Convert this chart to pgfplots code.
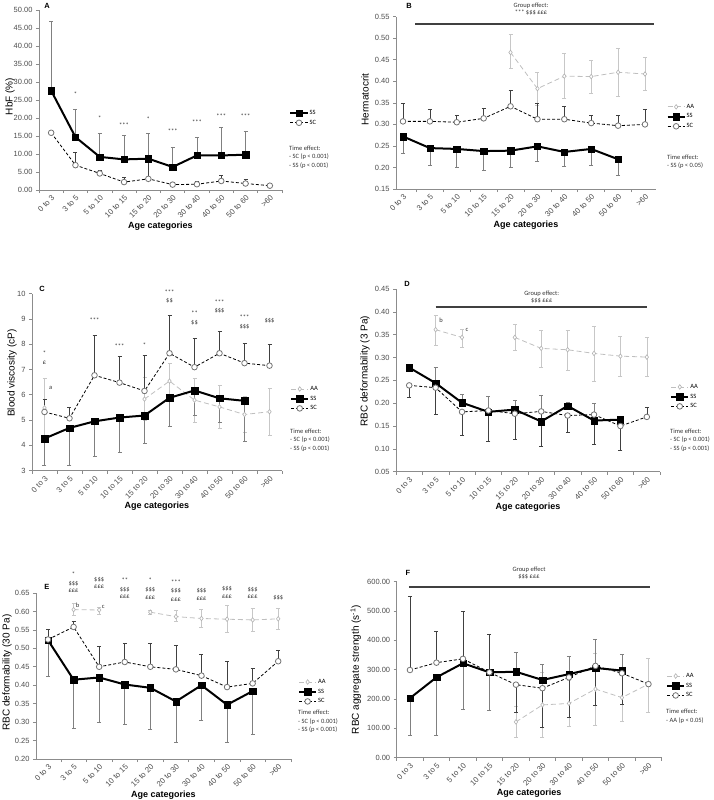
\documentclass[border=0pt]{standalone}
\usepackage{fontspec}
\setmainfont{Liberation Sans}
\newfontfamily\calfont{Carlito}
\usepackage{pgfplots}
\pgfplotsset{compat=1.18}

\tikzset{
  anno/.style={font=\calfont\fontsize{6.5}{7}\selectfont, inner sep=0pt, text=black!80},
  te/.style={anchor=north west, align=left, inner sep=0pt, text=black!80,
    font=\calfont\fontsize{6.5}{8.3}\selectfont},
}
\pgfplotsset{
  panel/.style={
    scale only axis, clip=false,
    axis lines=left, axis line style={-, draw=black!45, line width=0.8pt},
    xtick={0,...,9},
    xticklabels={0 to 3,3 to 5,5 to 10,10 to 15,15 to 20,20 to 30,30 to 40,40 to 50,50 to 60,>60},
    minor xtick={-0.5,0.5,...,9.5},
    major x tick style={draw=none},
    minor x tick style={draw=black!45, line width=0.6pt},
    ytick style={draw=black!45, line width=0.6pt},
    tick align=outside, major tick length=3pt, minor tick length=3pt,
    xticklabel style={rotate=45, anchor=north east, inner sep=1pt, font=\fontsize{7.8}{8}\selectfont, text=black!70},
    yticklabel style={font=\fontsize{7.5}{8}\selectfont, text=black!70,
      /pgf/number format/fixed, /pgf/number format/fixed zerofill, /pgf/number format/precision=2},
    /pgf/number format/assume math mode=true,
    xlabel={Age categories},
    label style={font=\bfseries\fontsize{9}{10}\selectfont},
    xlabel style={yshift=2pt},
    unbounded coords=jump,
    legend style={draw=none, fill=none, font=\calfont\fontsize{6.5}{7}\selectfont, anchor=north west,
      row sep=2pt, inner sep=0pt, nodes={inner sep=1pt}},
    legend cell align=left,
    error bars/y explicit, error bars/y dir=both,
  },
  ylab/.style 2 args={every axis y label/.style={at={(axis description cs:0,#2)}, rotate=90,
    anchor=center, yshift=#1}},
  ss/.style={black, line width=2pt, mark=square*, mark size=3.2pt, mark options={solid, line width=0.3pt},
    error bars/error bar style={black!50, line width=0.6pt, solid},
    error bars/error mark options={black!50, line width=0.6pt, mark size=2pt, rotate=90, solid}},
  sc/.style={black, line width=0.8pt, dash pattern=on 3pt off 2pt, mark=*, mark size=2.8pt,
    mark options={solid, fill=white, draw=black!55, line width=0.8pt},
    error bars/error bar style={black!75, line width=0.6pt, solid},
    error bars/error mark options={black!75, line width=0.6pt, mark size=2pt, rotate=90, solid}},
  aa/.style={black!25, line width=0.8pt, dash pattern=on 5pt off 3pt, mark=diamond*, mark size=2.3pt,
    mark options={solid, fill=white, draw=black!30, line width=0.6pt},
    error bars/error bar style={black!22, line width=0.6pt, solid},
    error bars/error mark options={black!22, line width=0.6pt, mark size=2pt, rotate=90, solid}},
}

\begin{document}
\begin{tikzpicture}
\useasboundingbox (0pt,0pt) rectangle (714pt,-800pt);

% ---------------- A ----------------
\begin{axis}[panel, at={(39pt,-190pt)}, anchor=south west, width=243pt, height=180pt,
  xmin=-0.5, xmax=9.5, ymin=0, ymax=50, ytick={0,5,...,50}, ylabel={HbF (\%)}, ylab={29pt}{0.52},
  legend style={at={(1.03,0.45)}}]
\addplot[ss] table[x=x,y=y,y error plus=p,y error minus=m] {
x y p m
0 27.6 19.4 0
1 14.7 7.8 0
2 9.2 6.5 0
3 8.5 6.7 0
4 8.7 7.0 0
5 6.4 5.6 0
6 9.6 5.1 0
7 9.6 7.7 0
8 9.8 6.4 0
};
\addlegendentry{SS}
\addplot[sc] table[x=x,y=y,y error plus=p,y error minus=m] {
x y p m
0 15.9 0 0
1 6.9 3.5 0
2 4.6 1.0 0
3 2.2 1.3 0
4 3.1 5.0 0
5 1.5 0.6 0
6 1.6 0.9 0
7 2.5 1.6 0
8 1.8 1.1 0
9 1.2 0 0
};
\addlegendentry{SC}
\node[anno] at (axis cs:1,26.7) {*};
\node[anno] at (axis cs:2,19.9) {*};
\node[anno] at (axis cs:3,18.0) {***};
\node[anno] at (axis cs:4,19.7) {*};
\node[anno] at (axis cs:5,16.4) {***};
\node[anno] at (axis cs:6,18.7) {***};
\node[anno] at (axis cs:7,20.5) {***};
\node[anno] at (axis cs:8,20.5) {***};
\end{axis}

% ---------------- B ----------------
\begin{axis}[panel, at={(396pt,-189pt)}, anchor=south west, width=260pt, height=172.3pt,
  xmin=-0.26, xmax=9.41, ymin=0.15, ymax=0.55,
  ytick={0.15,0.20,0.25,0.30,0.35,0.40,0.45,0.50,0.55}, ylabel={Hermatocrit}, ylab={31pt}{0.52},
  legend style={at={(1.04,0.50)}}]
\addplot[aa] table[x=x,y=y,y error plus=p,y error minus=m] {
x y p m
4 0.467 0.041 0.037
5 0.383 0.039 0.039
6 0.412 0.054 0.052
7 0.411 0.038 0.038
8 0.421 0.056 0.056
9 0.417 0.039 0.038
};
\addlegendentry{AA}
\addplot[ss] table[x=x,y=y,y error plus=p,y error minus=m] {
x y p m
0 0.272 0 0.039
1 0.245 0 0.041
2 0.243 0 0.043
3 0.238 0 0.044
4 0.239 0 0.039
5 0.249 0 0.034
6 0.236 0 0.034
7 0.243 0 0.037
8 0.219 0 0.038
};
\addlegendentry{SS}
\addplot[sc] table[x=x,y=y,y error plus=p,y error minus=m] {
x y p m
0 0.307 0.041 0
1 0.307 0.028 0
2 0.305 0.017 0
3 0.314 0.024 0
4 0.342 0.036 0
5 0.312 0.036 0
6 0.312 0.029 0
7 0.303 0.017 0
8 0.297 0.025 0
9 0.300 0.034 0
};
\addlegendentry{SC}
\draw[line width=1.6pt, black!75] (axis cs:0.45,0.533) -- (axis cs:9.33,0.533);
\end{axis}

% ---------------- C ----------------
\begin{axis}[panel, at={(32pt,-470.7pt)}, anchor=south west, width=250pt, height=177.2pt,
  xmin=-0.5, xmax=9.5, ymin=3, ymax=10, ytick={3,...,10}, ylabel={Blood viscosity (cP)}, ylab={20pt}{0.55},
  yticklabel style={/pgf/number format/precision=0},
  legend style={at={(1.032,0.484)}}]
\addplot[aa] table[x=x,y=y,y error plus=p,y error minus=m] {
x y p m
0 5.48 1.16 1.10
1 nan 0 0
2 nan 0 0
3 nan 0 0
4 5.83 0.85 0.85
5 6.54 0.70 0.70
6 5.79 0.86 0.87
7 5.52 0.85 0.84
8 5.22 0.70 0.70
9 5.33 0.92 0.93
};
\addlegendentry{AA}
\addplot[ss] table[x=x,y=y,y error plus=p,y error minus=m] {
x y p m
0 4.27 0 1.07
1 4.69 0 1.47
2 4.95 0 1.40
3 5.10 0 1.37
4 5.18 0 1.11
5 5.88 0 1.13
6 6.17 0 1.00
7 5.86 0 0.95
8 5.76 0 1.61
};
\addlegendentry{SS}
\addplot[sc] table[x=x,y=y,y error plus=p,y error minus=m] {
x y p m
0 5.32 0.49 0
1 5.07 0.45 0
2 6.77 1.58 0
3 6.48 1.04 0
4 6.15 1.40 0
5 7.64 1.48 0
6 7.09 1.16 0
7 7.64 0.88 0
8 7.25 0.78 0
9 7.15 0.85 0
};
\addlegendentry{SC}
\node[anno] at (axis cs:0,7.64) {*};
\node[anno] at (axis cs:0,7.27) {£};
\node[anno] at (axis cs:0.25,6.28) {a};
\node[anno] at (axis cs:2,8.93) {***};
\node[anno] at (axis cs:3,7.91) {***};
\node[anno] at (axis cs:4,7.97) {*};
\node[anno] at (axis cs:5,10.07) {***};
\node[anno] at (axis cs:5,9.70) {\$\$};
\node[anno] at (axis cs:6,9.23) {**};
\node[anno] at (axis cs:6,8.83) {\$\$};
\node[anno] at (axis cs:7,9.67) {***};
\node[anno] at (axis cs:7,9.30) {\$\$\$};
\node[anno] at (axis cs:8,9.07) {***};
\node[anno] at (axis cs:8,8.70) {\$\$\$};
\node[anno] at (axis cs:9,8.93) {\$\$\$};
\end{axis}

% ---------------- D ----------------
\begin{axis}[panel, at={(396pt,-471.7pt)}, anchor=south west, width=264pt, height=182.7pt,
  xmin=-0.5, xmax=9.5, ymin=0.05, ymax=0.45,
  ytick={0.05,0.10,0.15,0.20,0.25,0.30,0.35,0.40,0.45}, ylabel={RBC deformability (3 Pa)}, ylab={31pt}{0.55},
  legend style={at={(1.038,0.486)}}]
\addplot[aa] table[x=x,y=y,y error plus=p,y error minus=m] {
x y p m
1 0.361 0.032 0.034
2 0.344 0.018 0.021
3 nan 0 0
4 0.344 0.029 0.029
5 0.320 0.040 0.042
6 0.317 0.042 0.044
7 0.309 0.059 0.060
8 0.303 0.044 0.045
9 0.301 0.043 0.043
};
\addlegendentry{AA}
\addplot[ss] table[x=x,y=y,y error plus=p,y error minus=m] {
x y p m
0 0.278 0.007 0
1 0.244 0.035 0
2 0.201 0.018 0
3 0.181 0.035 0
4 0.186 0.020 0
5 0.160 0.058 0
6 0.194 0.008 0
7 0.162 0.037 0
8 0.164 0.008 0
};
\addlegendentry{SS}
\addplot[sc] table[x=x,y=y,y error plus=p,y error minus=m] {
x y p m
0 0.239 0 0.025
1 0.234 0 0.058
2 0.181 0 0.052
3 0.184 0 0.068
4 0.177 0 0.057
5 0.182 0 0.076
6 0.173 0 0.036
7 0.175 0 0.065
8 0.150 0 0.054
9 0.170 0.022 0
};
\addlegendentry{SC}
\draw[line width=1.6pt, black!75] (axis cs:1,0.411) -- (axis cs:9,0.411);
\node[anno] at (axis cs:1.21,0.382) {b};
\node[anno] at (axis cs:2.19,0.360) {c};
\end{axis}

% ---------------- E ----------------
\begin{axis}[panel, at={(36pt,-759pt)}, anchor=south west, width=255pt, height=166pt,
  xmin=-0.47, xmax=9.5, ymin=0.2, ymax=0.65,
  ytick={0.20,0.25,0.30,0.35,0.40,0.45,0.50,0.55,0.60,0.65}, ylabel={RBC deformability (30 Pa)}, ylab={29pt}{0.52},
  legend style={at={(1.027,0.488)}}]
\addplot[aa] table[x=x,y=y,y error plus=p,y error minus=m] {
x y p m
1 0.605 0.018 0.015
2 0.604 0.008 0.011
3 nan 0 0
4 0.598 0.005 0.005
5 0.586 0.017 0.014
6 0.581 0.025 0.025
7 0.579 0.038 0.036
8 0.577 0.031 0.032
9 0.580 0.029 0.028
};
\addlegendentry{AA}
\addplot[ss] table[x=x,y=y,y error plus=p,y error minus=m] {
x y p m
0 0.522 0 0.097
1 0.415 0 0.131
2 0.421 0 0.122
3 0.402 0 0.108
4 0.393 0 0.112
5 0.356 0 0.111
6 0.400 0 0.094
7 0.347 0 0.102
8 0.384 0 0.117
};
\addlegendentry{SS}
\addplot[sc] table[x=x,y=y,y error plus=p,y error minus=m] {
x y p m
0 0.524 0.028 0
1 0.558 0.016 0
2 0.450 0.055 0
3 0.463 0.051 0
4 0.450 0.064 0
5 0.443 0.065 0
6 0.426 0.057 0
7 0.395 0.070 0
8 0.405 0.042 0
9 0.465 0.030 0
};
\addlegendentry{SC}
\node[anno] at (axis cs:1,0.700) {*};
\node[anno] at (axis cs:1,0.675) {\$\$\$};
\node[anno] at (axis cs:1,0.655) {£££};
\node[anno] at (axis cs:2,0.686) {\$\$\$};
\node[anno] at (axis cs:2,0.666) {£££};
\node[anno] at (axis cs:3,0.686) {**};
\node[anno] at (axis cs:3,0.659) {\$\$\$};
\node[anno] at (axis cs:3,0.639) {£££};
\node[anno] at (axis cs:4,0.686) {*};
\node[anno] at (axis cs:4,0.659) {\$\$\$};
\node[anno] at (axis cs:4,0.636) {£££};
\node[anno] at (axis cs:5,0.680) {***};
\node[anno] at (axis cs:5,0.655) {\$\$\$};
\node[anno] at (axis cs:5,0.633) {£££};
\node[anno] at (axis cs:6,0.655) {\$\$\$};
\node[anno] at (axis cs:6,0.634) {£££};
\node[anno] at (axis cs:7,0.662) {\$\$\$};
\node[anno] at (axis cs:7,0.641) {£££};
\node[anno] at (axis cs:8,0.659) {\$\$\$};
\node[anno] at (axis cs:8,0.639) {£££};
\node[anno] at (axis cs:9,0.638) {\$\$\$};
\node[anno] at (axis cs:1.16,0.618) {b};
\node[anno] at (axis cs:2.16,0.612) {c};
\end{axis}

% ---------------- F ----------------
\begin{axis}[panel, at={(396.7pt,-757.7pt)}, anchor=south west, width=265pt, height=176pt,
  xmin=-0.5, xmax=9.5, ymin=0, ymax=600, ytick={0,100,...,600},
  ylabel={RBC aggregate strength (s\textsuperscript{-1})}, ylab={41pt}{0.5},
  legend style={at={(1.016,0.487)}}]
\addplot[aa] table[x=x,y=y,y error plus=p,y error minus=m] {
x y p m
4 122 53 52
5 180 110 110
6 185 78 78
7 234 122 122
8 205 80 80
9 251 88 96
};
\addlegendentry{AA}
\addplot[ss] table[x=x,y=y,y error plus=p,y error minus=m] {
x y p m
0 203 0 125
1 274 0 199
2 322 0 157
3 291 0 128
4 293 65 0
5 265 53 0
6 285 60 0
7 306 99 0
8 297 55 0
};
\addlegendentry{SS}
\addplot[sc] table[x=x,y=y,y error plus=p,y error minus=m] {
x y p m
0 299 251 0
1 324 108 0
2 337 163 0
3 291 129 0
4 249 0 94
5 237 0 132
6 274 0 136
7 313 0 135
8 288 0 105
9 251 0 0
};
\addlegendentry{SC}
\draw[line width=1.6pt, black!75] (axis cs:-0.04,583) -- (axis cs:9.04,583);
\end{axis}

% panel letters
\foreach \l/\px/\py in {A/47/6, B/409/6, C/42/289, D/407/284, E/47/587, F/408/573}
  \node[font=\bfseries\fontsize{7.5}{8}\selectfont] at (\px pt,-\py pt) {\l};

% group effect texts
\node[anno, align=center] at (531pt,-9.5pt) {Group effect:\\*** \$\$\$ £££};
\node[anno, align=center] at (541.7pt,-297pt) {Group effect:\\\$\$\$ £££};
\node[anno, align=center] at (529pt,-573pt) {Group effect\\\$\$\$ £££};

% time effect texts
\node[te] at (289pt,-146pt) {Time effect:\\- SC (p < 0.001)\\- SS (p < 0.001)};
\node[te] at (667pt,-155pt) {Time effect:\\- SS (p < 0.05)};
\node[te] at (290pt,-429pt) {Time effect:\\- SC (p < 0.001)\\- SS (p < 0.001)};
\node[te] at (670pt,-429pt) {Time effect:\\- SC (p < 0.001)\\- SS (p < 0.001)};
\node[te] at (298pt,-710pt) {Time effect:\\- SC (p < 0.001)\\- SS (p < 0.001)};
\node[te] at (666pt,-709pt) {Time effect:\\- AA (p < 0.05)};
\end{tikzpicture}
\end{document}
